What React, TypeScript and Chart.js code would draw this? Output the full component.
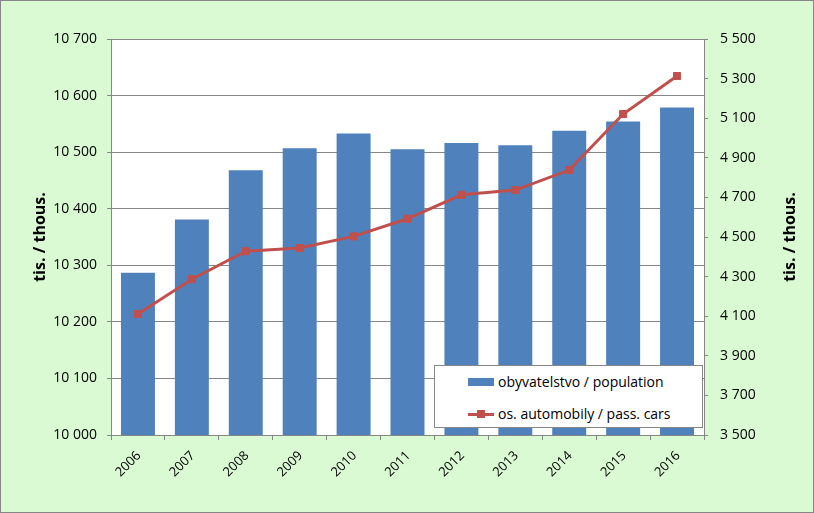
import React, { useEffect, useRef } from "react";
import { Chart, registerables } from "chart.js";

Chart.register(...registerables);

const years = ["2006", "2007", "2008", "2009", "2010", "2011", "2012", "2013", "2014", "2015", "2016"];
const population = [10287, 10381, 10468, 10507, 10533, 10505, 10516, 10512, 10538, 10554, 10579];
const cars = [4111, 4287, 4428, 4444, 4503, 4592, 4713, 4737, 4838, 5121, 5313];
const popLabel = "obyvatelstvo / population";
const carLabel = "os. automobily / pass. cars";
const axisTitle = "tis. / thous.";

const FONT = "'Open Sans', sans-serif";
const GRAY = "#868686";
const BLUE = "#4F81BD";
const RED = "#C0504D";
const BG = "#DAFAD3";

const fmt = (v: number) => String(v).replace(/\B(?=(\d{3})+(?!\d))/g, " ");

const decor = {
  id: "decor",
  beforeDraw(chart: any) {
    const { ctx, chartArea, width, height } = chart;
    ctx.save();
    ctx.fillStyle = BG;
    ctx.fillRect(0, 0, width, height);
    ctx.strokeStyle = GRAY;
    ctx.lineWidth = 1;
    ctx.strokeRect(0.5, 0.5, width - 1, height - 1);
    ctx.fillStyle = "#FFFFFF";
    ctx.fillRect(chartArea.left, chartArea.top, chartArea.right - chartArea.left, chartArea.bottom - chartArea.top);
    ctx.restore();
  },
  afterDraw(chart: any) {
    const { ctx, chartArea } = chart;
    const cy = (chartArea.top + chartArea.bottom) / 2;
    ctx.save();
    ctx.fillStyle = "#000";
    ctx.font = "bold 16px " + FONT;
    ctx.textAlign = "center";
    ctx.textBaseline = "middle";
    for (const x of [40, 790]) {
      ctx.save();
      ctx.translate(x, cy);
      ctx.rotate(-Math.PI / 2);
      ctx.fillText(axisTitle, 0, 0);
      ctx.restore();
    }
    ctx.restore();
  },
};

export default function App() {
  const ref = useRef<HTMLCanvasElement>(null);
  useEffect(() => {
    const chart = new Chart(ref.current!, {
      type: "bar",
      data: {
        labels: years,
        datasets: [
          {
            type: "line",
            label: carLabel,
            data: cars,
            yAxisID: "y2",
            borderColor: RED,
            borderWidth: 3,
            pointStyle: "rect",
            pointRadius: 5,
            pointBackgroundColor: RED,
            pointBorderColor: RED,
            pointBorderWidth: 1,
            order: 0,
          } as any,
          {
            type: "bar",
            label: popLabel,
            data: population,
            yAxisID: "y",
            backgroundColor: BLUE,
            barPercentage: 0.63,
            categoryPercentage: 1,
            order: 1,
          },
        ],
      },
      options: {
        responsive: false,
        animation: false,
        layout: { padding: { top: 39, left: 0, right: 0, bottom: 0 } },
        plugins: { legend: { display: false }, tooltip: { enabled: false } },
        scales: {
          x: {
            offset: true,
            grid: { offset: true, drawOnChartArea: false, tickLength: 5, color: GRAY },
            border: { color: GRAY },
            ticks: { color: "#000", font: { family: FONT, size: 13 }, maxRotation: 45, minRotation: 45, padding: 8, labelOffset: 1 },
            afterFit(s: any) { s.height = 78; },
          },
          y: {
            position: "left",
            min: 10000,
            max: 10700,
            ticks: { stepSize: 100, color: "#000", font: { family: FONT, size: 14 }, padding: 10, callback: (v: any) => fmt(v) },
            grid: { color: GRAY, tickLength: 4 },
            border: { color: GRAY },
            afterFit(s: any) { s.width = 111; },
          },
          y2: {
            position: "right",
            min: 3500,
            max: 5500,
            ticks: { stepSize: 200, color: "#000", font: { family: FONT, size: 14 }, padding: 12, callback: (v: any) => fmt(v) },
            grid: { drawOnChartArea: false, color: GRAY, tickLength: 4 },
            border: { color: GRAY },
            afterFit(s: any) { s.width = 110; },
          },
        },
      },
      plugins: [decor],
    });
    return () => chart.destroy();
  }, []);

  const txt: React.CSSProperties = { position: "absolute", left: 63, fontFamily: FONT, fontSize: 14, color: "#000", lineHeight: "18px", whiteSpace: "nowrap" };
  return (
    <div style={{ position: "absolute", left: 0, top: 0, width: 814, height: 513 }}>
      <canvas ref={ref} width={814} height={513} style={{ display: "block" }} />
      <div style={{ position: "absolute", left: 434, top: 365, width: 269, height: 63, boxSizing: "border-box", background: "#fff", border: "1px solid " + GRAY }}>
        <div style={{ position: "absolute", left: 33, top: 12, width: 26, height: 8, background: BLUE }} />
        <div style={{ ...txt, top: 7 }}>{popLabel}</div>
        <div style={{ position: "absolute", left: 33, top: 47, width: 26, height: 3, background: RED }} />
        <div style={{ position: "absolute", left: 42, top: 44, width: 8, height: 8, background: RED }} />
        <div style={{ ...txt, top: 39 }}>{carLabel}</div>
      </div>
    </div>
  );
}
